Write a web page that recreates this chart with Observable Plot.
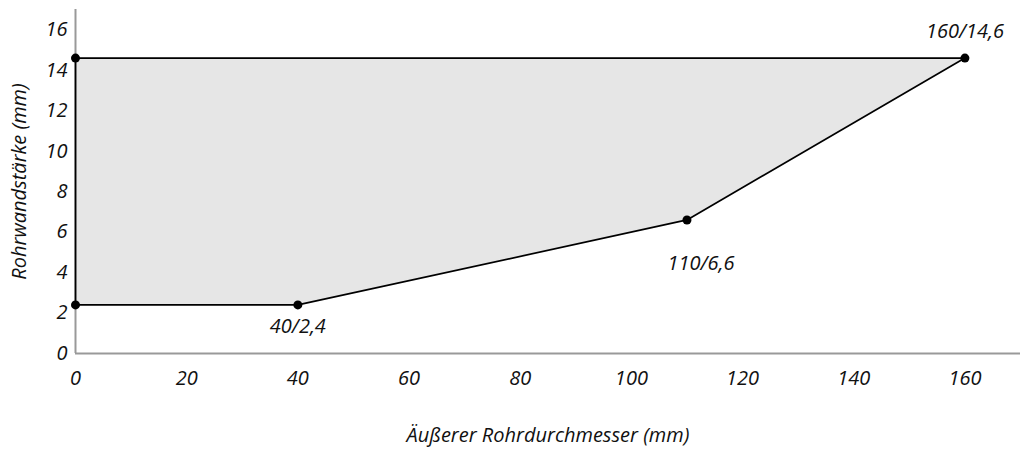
<!DOCTYPE html>
<html>
<head>
<meta charset="utf-8">
<script src="https://cdn.jsdelivr.net/npm/d3@7"></script>
<script src="https://cdn.jsdelivr.net/npm/@observablehq/plot@0.6"></script>
<style>
  html, body { margin: 0; padding: 0; background: #fff; }
  svg { font-family: "Open Sans", sans-serif; font-style: italic; }
</style>
</head>
<body>
<div id="chart"></div>
<script>
// Polygon boundary (outer diameter mm / wall thickness mm)
const diameters = [0, 40, 110, 160];
const wallMin = [2.4, 2.4, 6.6, 14.6];
const wallMax = [14.6, 14.6, 14.6, 14.6];

// Marked points and their labels
const pointX = [0, 0, 40, 110, 160];
const pointY = [14.6, 2.4, 2.4, 6.6, 14.6];
const labelX = [40, 110, 160];
const labelY = [2.4, 6.6, 14.6];
const labelText = ["40/2,4", "110/6,6", "160/14,6"];

const xTicks = [0, 20, 40, 60, 80, 100, 120, 140, 160];
const yTicks = [0, 2, 4, 6, 8, 10, 12, 14, 16];

const band = diameters.map((d, i) => ({x: d, y1: wallMin[i], y2: wallMax[i]}));
const poly = [
  {x: diameters[0], y: wallMax[0]},
  {x: diameters[3], y: wallMax[3]},
  {x: diameters[2], y: wallMin[2]},
  {x: diameters[1], y: wallMin[1]},
  {x: diameters[0], y: wallMin[0]},
  {x: diameters[0], y: wallMax[0]}
];
const pts = pointX.map((x, i) => ({x, y: pointY[i]}));
const labs = labelX.map((x, i) => ({x, y: labelY[i], t: labelText[i]}));

const FS = 20;
const chart = Plot.plot({
  width: 1022,
  height: 449,
  marginLeft: 75,
  marginRight: 2,
  marginTop: 9,
  marginBottom: 96,
  style: {fontSize: FS + "px", fontFamily: "'Open Sans', sans-serif", fontStyle: "italic", color: "#111"},
  x: {domain: [0, 170]},
  y: {domain: [0, 17]},
  marks: [
    Plot.areaY(band, {x: "x", y1: "y1", y2: "y2", fill: "#e6e6e6"}),
    Plot.ruleY([0], {stroke: "#999", strokeWidth: 2}),
    Plot.ruleX([0], {stroke: "#999", strokeWidth: 2}),
    Plot.line(poly, {x: "x", y: "y", stroke: "#000", strokeWidth: 1.7}),
    Plot.dot(pts, {x: "x", y: "y", r: 4.5, fill: "#000", stroke: "none"}),
    Plot.text(labs.filter(d => d.t === "40/2,4"), {x: "x", y: "y", text: "t", dy: 22, fontSize: FS, fill: "#111"}),
    Plot.text(labs.filter(d => d.t === "110/6,6"), {x: "x", y: "y", text: "t", dx: 14, dy: 44, fontSize: FS, fill: "#111"}),
    Plot.text(labs.filter(d => d.t === "160/14,6"), {x: "x", y: "y", text: "t", dy: -26, fontSize: FS, fill: "#111"}),
    Plot.axisX({ticks: xTicks, tickSize: 0, tickPadding: 17, tickFormat: d => String(d), fontSize: FS,
      label: "Äußerer Rohrdurchmesser (mm)", labelAnchor: "center", labelArrow: "none", labelOffset: 88}),
    Plot.axisY({ticks: yTicks, tickSize: 0, tickPadding: 8, tickFormat: d => String(d), fontSize: FS,
      label: "Rohrwandstärke (mm)", labelAnchor: "center", labelArrow: "none", labelOffset: 64})
  ]
});
document.getElementById("chart").appendChild(chart);
</script>
</body>
</html>
